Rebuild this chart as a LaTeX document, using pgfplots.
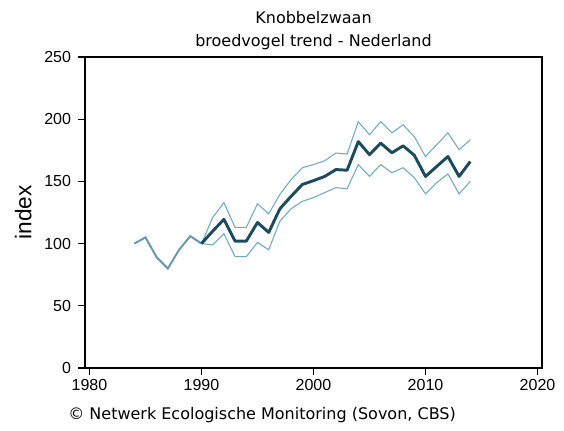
\documentclass[border=0pt]{standalone}
\usepackage{fontspec}
\setmainfont{Liberation Sans}
\newfontfamily\tahomaish{DejaVu Sans}
\usepackage{pgfplots}
\pgfplotsset{compat=1.18}
\usepackage{pgfplotstable}

\definecolor{trendmain}{HTML}{1C4B5C}
\definecolor{trendci}{HTML}{6FAAC4}
\definecolor{trendpre}{HTML}{6C96B6}

% index 1984-1990 (before the monitoring trend starts)
\pgfplotstableread{
year idx
1984 100
1985 105
1986 89
1987 80
1988 95
1989 106
1990 100
}\preperiod

% index with lower and upper confidence limit
\pgfplotstableread{
year idx lo hi
1990 100 100 100
1991 110 99 121
1992 119.5 108 133
1993 102 89.5 113
1994 102 89.5 113
1995 117 101 132
1996 109 95 124
1997 128 118 139.5
1998 138 128 151.5
1999 147.5 134 161
2000 150.6 137 163.5
2001 154 141 166.6
2002 159.5 145 172.8
2003 159 144 172
2004 182 163.5 198
2005 171.5 154 187.5
2006 180.8 163.5 198
2007 173 157 189
2008 178.6 161 195.5
2009 171 153 186
2010 154 140 170
2011 162 149 179.5
2012 170 156 189
2013 154 140 175.5
2014 166 150 183.5
}\trend

\begin{document}
\begin{tikzpicture}
\begin{axis}[
  scale only axis,
  width=342.75pt, height=233.25pt,
  xmin=1979.6, xmax=2020.4,
  ymin=0, ymax=250,
  xtick={1980,1990,2000,2010,2020},
  ytick={0,50,100,150,200,250},
  xticklabel style={/pgf/number format/1000 sep={}},
  yticklabel style={xshift=-2pt},
  /pgf/number format/assume math mode=true,
  tick label style={font=\fontsize{12}{14}\selectfont},
  tick align=outside, tick pos=left,
  major tick length=5pt,
  axis line style={line width=0.9pt},
  every tick/.style={black, line width=0.8pt},
  ylabel={index},
  every axis y label/.style={at={(axis description cs:-0.135,0.5)},rotate=90,anchor=center,font=\fontsize{17}{19}\selectfont},
  title={Knobbelzwaan\\broedvogel trend - Nederland},
  title style={font=\tahomaish\fontsize{12}{17}\selectfont, align=center, at={(0.5,1)}, anchor=south, yshift=-4pt},
  clip=false,
]
\addplot[trendpre, line width=1.5pt] table[x=year, y=idx] {\preperiod};
\addplot[trendci, line width=0.8pt] table[x=year, y=hi] {\trend};
\addplot[trendci, line width=0.8pt] table[x=year, y=lo] {\trend};
\addplot[trendmain, line width=2.2pt, line join=round] table[x=year, y=idx] {\trend};
\end{axis}
\node[anchor=west, font=\tahomaish\fontsize{12}{14}\selectfont] at (-16pt,-35pt) {© Netwerk Ecologische Monitoring (Sovon, CBS)};
\pgfresetboundingbox
\path[use as bounding box] (-63.75pt,-46.5pt) rectangle (359.25pt,276pt);
\end{tikzpicture}
\end{document}
